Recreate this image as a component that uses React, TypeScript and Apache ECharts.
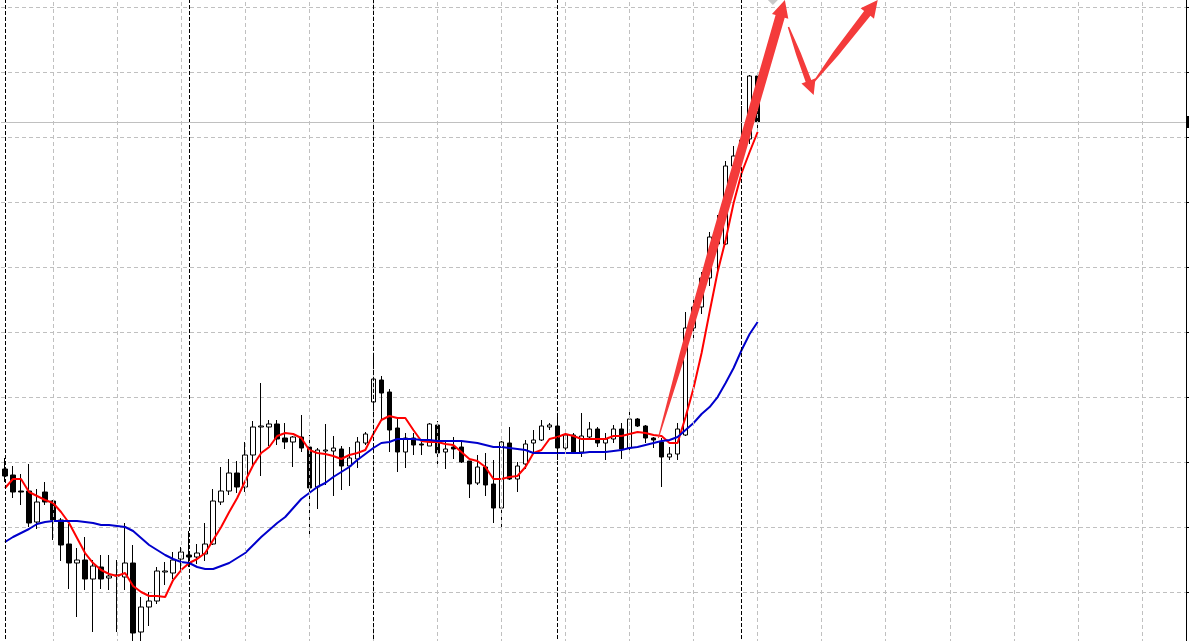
import { useEffect, useRef } from "react";
import * as echarts from "echarts";

// ---- data (price units) ----
const SLOT_COUNT = 148; // bar slots on the time axis (95 bars + empty future space)
const categories: string[] = Array.from({ length: SLOT_COUNT }, (_, i) => `B${i + 1}`);

const opens = [
  188, 182, 166, 166, 135, 165, 156, 137, 113, 94,
  97, 78, 90, 79, 82, 80, 94, 25, 50, 56,
  85, 84, 98, 102, 100, 103, 113, 155, 166, 184,
  170, 202, 230, 230, 233, 219, 215, 220, 210, 170,
  206, 206, 208, 191, 198, 214, 255, 277, 265, 229,
  205, 219, 213, 211, 232, 205, 210, 210, 196, 174,
  190, 173, 149, 214, 178, 193, 214, 217, 230, 231,
  209, 222, 205, 220, 228, 214, 218, 228, 209, 238,
  231, 219, 215, 200, 203, 222, 329, 350, 379, 419,
  413, 491, 504, 518, 581,
];
const closes = [
  181, 165, 165, 134, 155, 155, 137, 112, 94, 97,
  78, 91, 78, 81, 81, 94, 24, 50, 56, 86,
  86, 97, 105, 100, 104, 113, 156, 166, 184, 170,
  202, 230, 231, 233, 218, 215, 220, 209, 169, 207,
  207, 209, 191, 199, 215, 223, 278, 264, 227, 205,
  219, 212, 212, 233, 204, 208, 208, 195, 173, 190,
  172, 149, 215, 178, 191, 213, 217, 231, 232, 209,
  222, 205, 221, 228, 214, 218, 228, 208, 238, 231,
  219, 217, 200, 203, 228, 329, 350, 379, 420, 413,
  491, 501, 517, 581, 535,
];
const lows = [
  175, 159, 152, 130, 128, 152, 117, 96, 68, 40,
  67, 25, 68, 67, 25, 67, 16, 16, 31, 53,
  72, 78, 87, 90, 93, 96, 112, 152, 162, 164,
  165, 192, 181, 211, 212, 208, 190, 205, 123, 148,
  172, 161, 167, 171, 189, 212, 230, 237, 205, 185,
  189, 202, 202, 211, 192, 188, 198, 194, 159, 172,
  161, 134, 127, 177, 165, 188, 205, 216, 227, 197,
  207, 205, 200, 217, 210, 197, 214, 198, 207, 230,
  214, 209, 170, 197, 197, 221, 316, 343, 371, 385,
  412, 473, 497, 513, 529,
];
const highs = [
  199, 191, 183, 193, 168, 175, 157, 139, 133, 109,
  120, 97, 102, 102, 97, 134, 112, 60, 65, 90,
  95, 105, 110, 126, 113, 134, 168, 190, 198, 196,
  215, 236, 274, 237, 237, 234, 221, 242, 222, 209,
  233, 221, 211, 210, 220, 225, 302, 281, 268, 240,
  224, 224, 217, 234, 236, 216, 220, 216, 196, 202,
  204, 197, 216, 230, 195, 217, 227, 237, 234, 240,
  225, 224, 244, 235, 230, 224, 232, 234, 245, 239,
  232, 220, 219, 210, 234, 345, 360, 385, 425, 442,
  496, 511, 551, 582, 582,
];
const fastMA = [
  169, 178, 178, 165, 161, 157, 154, 145, 134, 119,
  104, 94, 87, 83, 81, 84, 71, 65, 61, 61,
  60, 77, 87, 94, 98, 104, 117, 130, 145, 159,
  176, 192, 204, 210, 221, 224, 223, 219, 207, 204,
  203, 201, 198, 202, 204, 207, 223, 237, 241, 239,
  239, 227, 216, 215, 215, 213, 212, 205, 198, 196,
  190, 178, 178, 180, 181, 190, 204, 207, 218, 220,
  223, 221, 218, 218, 218, 218, 221, 221, 223, 225,
  224, 222, 221, 214, 214, 240, 269, 304, 345, 385,
  417, 454, 484, 505, 525,
];
const slowMA = [
  115, 120, 124, 128, 133, 135, 136, 136, 136, 136,
  135, 134, 132, 132, 131, 130, 126, 119, 112, 107,
  102, 98, 95, 94, 90, 88, 88, 91, 94, 99,
  104, 112, 120, 127, 134, 140, 149, 158, 164, 170,
  174, 180, 185, 190, 197, 203, 209, 214, 215, 218,
  218, 218, 217, 217, 216, 216, 216, 216, 215, 214,
  212, 210, 210, 209, 208, 207, 204, 204, 204, 204,
  204, 204, 204, 205, 205, 205, 206, 207, 209, 210,
  212, 214, 216, 217, 220, 227, 234, 243, 250, 260,
  274, 289, 307, 323, 335,
];
// grid / separator slots
const gridSlots = [6, 14, 22, 30, 38, 46, 54, 62, 70, 78, 86, 94, 102, 110, 118, 126, 134, 142];
const periodSlots = [0, 23, 46, 69, 92];
// drawn arrows in [slot, price] space: from, to
const arrowFrom = [[81.6, 219], [97.85, 630], [101.1, 576]];
const arrowTo = [[97.4, 657], [101.0, 562], [109.0, 657]];

const ARROW_COLOR = "#f43b3b";

function arrowPoly(a: number[], b: number[], widths: number[][], headLen: number, headW: number) {
  const dx = b[0] - a[0], dy = b[1] - a[1];
  const L = Math.hypot(dx, dy);
  const ux = dx / L, uy = dy / L;
  const nx = -uy, ny = ux;
  const shaftLen = L - headLen;
  const left: number[][] = [];
  const right: number[][] = [];
  widths.forEach(([t, w]) => {
    const cx = a[0] + ux * shaftLen * t, cy = a[1] + uy * shaftLen * t;
    left.push([cx + nx * w / 2, cy + ny * w / 2]);
    right.push([cx - nx * w / 2, cy - ny * w / 2]);
  });
  const bx = a[0] + ux * shaftLen, by = a[1] + uy * shaftLen;
  return [
    ...left,
    [bx + nx * headW / 2, by + ny * headW / 2],
    [b[0], b[1]],
    [bx - nx * headW / 2, by - ny * headW / 2],
    ...right.reverse(),
  ];
}

// The chart canvas extends 58px above and 16px below the visible window,
// so that the price grid (65px steps) lands where it does in the original.
const CANVAS_TOP = -58;
const CANVAS_HEIGHT = 715;

export default function App() {
  const ref = useRef<HTMLDivElement>(null);
  useEffect(() => {
    if (!ref.current) return;
    document.body.style.margin = "0";
    document.body.style.overflow = "hidden";
    const chart = echarts.init(ref.current, undefined, { renderer: "svg" });
    const candleData = opens.map((o, i) => [o, closes[i], lows[i], highs[i]]);
    const lastClose = closes[closes.length - 1];

    const gridLine = { color: "#c0c0c0", type: [4, 3], width: 1 };
    const markData: any[] = [
      ...gridSlots.map((s) => ({ xAxis: s, lineStyle: gridLine })),
      ...periodSlots.map((s) => ({ xAxis: s, lineStyle: { color: "#000", type: [4, 2], width: 1 } })),
      { yAxis: lastClose, lineStyle: { color: "#c0c0c0", type: "solid", width: 1 } },
    ];

    chart.setOption({
      animation: false,
      backgroundColor: "#ffffff",
      grid: { left: 1, right: 3, top: 0, bottom: 0, containLabel: false },
      xAxis: {
        type: "category",
        data: categories,
        boundaryGap: true,
        axisLine: { show: false },
        axisTick: { show: false },
        axisLabel: { show: false },
        splitLine: { show: false },
      },
      yAxis: {
        type: "value",
        position: "right",
        min: 0,
        max: 715,
        interval: 65,
        axisLine: { show: true, lineStyle: { color: "#000", width: 1 } },
        axisTick: { show: true, inside: false, length: 3, lineStyle: { color: "#000", width: 1 } },
        axisLabel: { show: false },
        splitLine: { show: true, lineStyle: gridLine },
      },
      series: [
        {
          type: "line",
          data: [],
          z: 1,
          silent: true,
          markLine: {
            silent: true,
            symbol: ["none", "none"],
            label: { show: false },
            animation: false,
            data: markData,
          },
        },
        {
          type: "candlestick",
          data: candleData,
          barWidth: 5,
          z: 3,
          itemStyle: {
            color: "#ffffff",
            color0: "#000000",
            borderColor: "#000000",
            borderColor0: "#000000",
            borderWidth: 1,
          },
        },
        {
          type: "line",
          data: fastMA,
          symbol: "none",
          z: 4,
          lineStyle: { color: "#ff0000", width: 2 },
        },
        {
          type: "line",
          data: slowMA,
          symbol: "none",
          z: 4,
          lineStyle: { color: "#0000cc", width: 2 },
        },
      ],
    });

    const px = (slot: number, val: number) => {
      const p0 = chart.convertToPixel({ gridIndex: 0 }, [0, val]) as number[];
      const p1 = chart.convertToPixel({ gridIndex: 0 }, [1, val]) as number[];
      return [p0[0] + slot * (p1[0] - p0[0]), p0[1]];
    };
    const specs = [
      { widths: [[0, 1], [0.2, 6], [0.45, 9], [1, 9.5]], headLen: 17, headW: 17 },
      { widths: [[0, 1.5], [0.5, 5], [1, 6]], headLen: 15, headW: 15 },
      { widths: [[0, 1.5], [0.4, 6], [1, 8]], headLen: 17, headW: 17 },
    ];
    const elements: any[] = arrowFrom.map((f, i) => {
      const a = px(f[0], f[1]);
      const b = px(arrowTo[i][0], arrowTo[i][1]);
      return {
        type: "polygon",
        shape: { points: arrowPoly(a, b, specs[i].widths, specs[i].headLen, specs[i].headW) },
        style: { fill: ARROW_COLOR },
        silent: true,
        z: 10,
      };
    });
    const tip = px(arrowTo[0][0], arrowTo[0][1]);
    elements.push({
      type: "polygon",
      shape: { points: [[tip[0] - 12, tip[1] - 5], [tip[0] - 7, tip[1]], [tip[0] - 12, tip[1] + 5], [tip[0] - 17, tip[1]]] },
      style: { fill: "#c8c8c8" },
      silent: true,
      z: 9,
    });
    const bid = px(SLOT_COUNT - 0.5, lastClose);
    elements.push({
      type: "rect",
      shape: { x: bid[0] + 1, y: bid[1] - 6, width: 2, height: 12 },
      style: { fill: "#000" },
      silent: true,
      z: 10,
    });
    chart.setOption({ graphic: { elements } });

    return () => chart.dispose();
  }, []);
  return (
    <div
      ref={ref}
      style={{ position: "fixed", left: 0, top: CANVAS_TOP, width: 1189, height: CANVAS_HEIGHT }}
    />
  );
}
